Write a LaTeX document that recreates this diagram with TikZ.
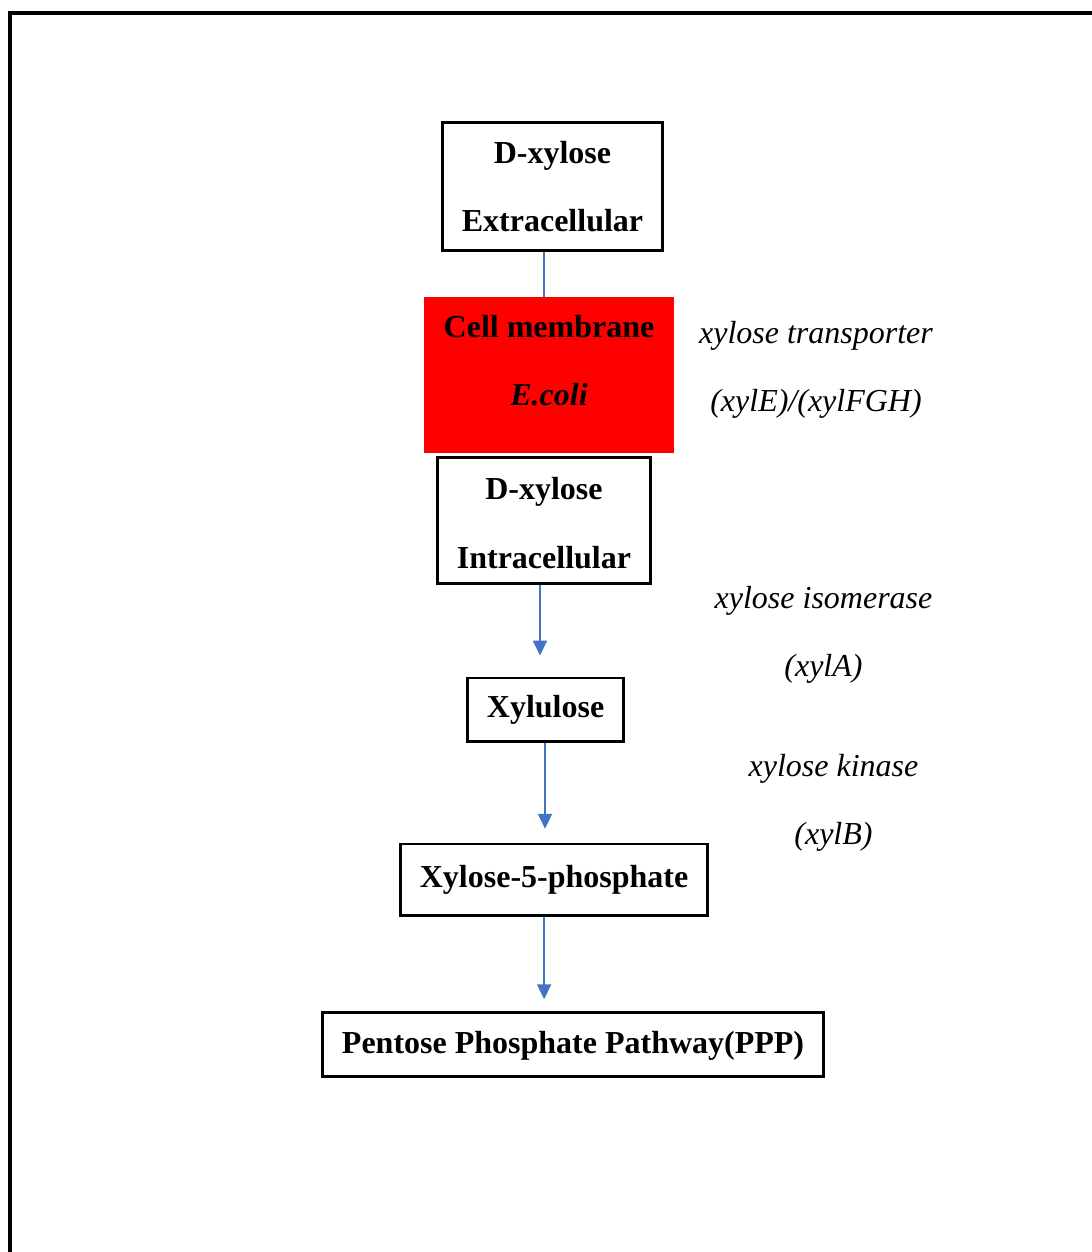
\documentclass[tikz,border=0pt]{standalone}
\usepackage{fontspec}
\setmainfont{Liberation Serif}
\usepackage{tikz}
\usetikzlibrary{arrows.meta,positioning}
\definecolor{flowblue}{RGB}{68,114,196}
\definecolor{membred}{RGB}{255,0,0}

\begin{document}
\begin{tikzpicture}[
  x=0.375pt, y=-0.375pt,
  metab/.style={rectangle, draw, line width=1.05pt, align=center, inner sep=0pt, font=\fontsize{12}{25.8}\selectfont\bfseries},
  membrane/.style={rectangle, fill=membred, align=center, inner sep=0pt, outer sep=0pt, font=\fontsize{12}{25.8}\selectfont\bfseries},
  enzyme/.style={align=center, inner sep=0pt, font=\fontsize{12}{25.5}\selectfont\itshape},
  flow/.style={-{Triangle[width=5.3pt, length=5.6pt]}, line width=0.6pt, flowblue},
  plainflow/.style={line width=0.6pt, flowblue},
]
  \useasboundingbox (0,0) rectangle (1092,1252);
  % Frame
  \draw[line width=1.25pt] (10,1252) -- (10,13) -- (1092,13);

  % Outside the cell
  \node[metab, minimum width=82.5pt, minimum height=48pt] (extra) at (552.5,186.5) {D-xylose\\Extracellular};

  % Membrane
  \node[membrane, minimum width=93.75pt, minimum height=58.5pt, text depth=11pt, below=16.9pt of extra, xshift=-1.3pt] (memb) {Cell membrane\\\textit{E.coli}};

  % Inside the cell
  \node[metab, minimum width=80pt, minimum height=47pt, text height=36pt, below=1.3pt of memb, xshift=-1.9pt] (intra) {D-xylose\\Intracellular};
  \node[metab, minimum width=58.5pt, minimum height=23.7pt, below=34.5pt of intra, xshift=0.6pt] (xylu) {Xylulose};
  \node[metab, minimum width=115.2pt, minimum height=26.8pt, below=37.5pt of xylu, xshift=3.2pt] (x5p) {Xylose-5-phosphate};
  \node[metab, minimum width=188pt, minimum height=24pt, text height=9.5pt, below=35.4pt of x5p, xshift=7.1pt] (ppp) {Pentose Phosphate Pathway(PPP)};

  % Enzymes
  \node[enzyme] (trans) at (816,370) {xylose transporter\\(xylE)/(xylFGH)};
  \node[enzyme] (xyla) at (823.5,635) {xylose isomerase\\(xylA)};
  \node[enzyme] (xylb) at (833.5,803) {xylose kinase\\(xylB)};

  % Links
  \draw[plainflow] ([xshift=-3.2pt]extra.south) -- ([xshift=-3.2pt]extra.south |- memb.north);
  \draw[flow, shorten >=7.9pt] ([xshift=-1.5pt]intra.south) -- ([xshift=-1.5pt]intra.south |- xylu.north);
  \draw[flow, shorten >=5.2pt] ([xshift=-0.2pt]xylu.south) -- ([xshift=-0.2pt]xylu.south |- x5p.north);
  \draw[flow, shorten >=4.5pt] ([xshift=-3.75pt]x5p.south) -- ([xshift=-3.75pt]x5p.south |- ppp.north);
\end{tikzpicture}
\end{document}
